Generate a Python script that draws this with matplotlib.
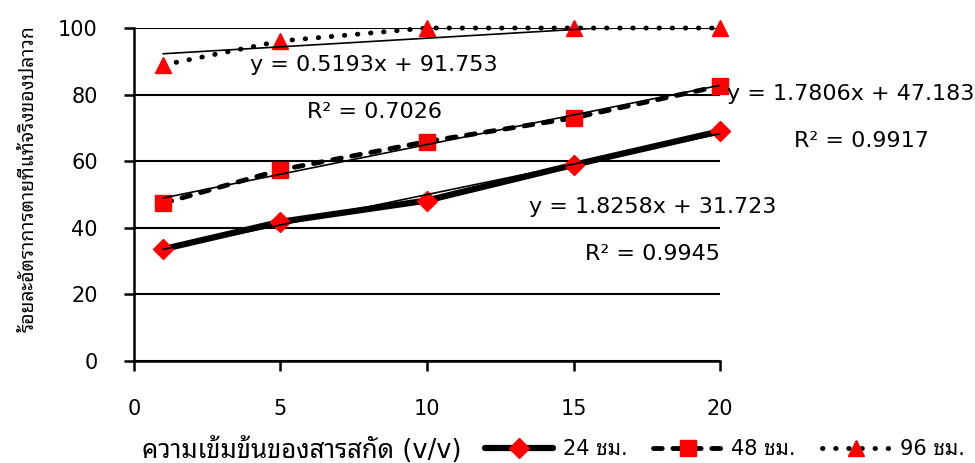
import matplotlib
matplotlib.use("Agg")
import matplotlib.pyplot as plt
from matplotlib.lines import Line2D
import numpy as np

plt.rcParams["font.family"] = ["DejaVu Sans", "Noto Sans Thai Looped", "Loma"]

# concentration of extract (v/v)
conc = [1, 5, 10, 15, 20]

# corrected mortality (%) per exposure time
mort_24h = [33.6, 41.8, 48.2, 58.9, 69.0]
mort_48h = [47.4, 57.4, 65.9, 73.0, 82.6]
mort_96h = [88.9, 96.1, 100.0, 100.0, 100.0]

series_labels = ["24 ชม.", "48 ชม.", "96 ชม."]

# linear trend lines (slope, intercept) and R^2 as printed on the chart
fits = {
    "24": (1.8258, 31.723, 0.9945),
    "48": (1.7806, 47.183, 0.9917),
    "96": (0.5193, 91.753, 0.7026),
}

x_label = "ความเข้มข้นของสารสกัด (v/v)"
y_label = "ร้อยละอัตราการตายที่แท้จริงของปลาวก"

red = "#ff0000"
styles = [
    dict(linewidth=4.5, linestyle="-", solid_capstyle="round", marker="D", markersize=10),
    dict(linewidth=3.5, linestyle=(0, (1.8, 2.2)), dash_capstyle="round", marker="s",
         markersize=11),
    dict(linewidth=3.5, linestyle=(0, (0.1, 2.6)), dash_capstyle="round", marker="^",
         markersize=12),
]

fig = plt.figure(figsize=(9.75, 4.63), dpi=100)
ax = fig.add_axes([0.1374, 0.2203, 0.6011, 0.7192])

ax.set_xlim(0, 20)
ax.set_ylim(0, 100)
ax.set_xticks([0, 5, 10, 15, 20])
ax.set_yticks([0, 20, 40, 60, 80, 100])
ax.yaxis.grid(True, color="black", linewidth=1.5)
ax.set_axisbelow(True)
for side in ["top", "right"]:
    ax.spines[side].set_visible(False)
ax.spines["left"].set_linewidth(1.8)
ax.spines["bottom"].set_linewidth(1.8)
ax.tick_params(axis="both", length=7, width=1.8, labelsize=15, colors="black")
ax.tick_params(axis="y", pad=19)
ax.tick_params(axis="x", pad=20)

handles = []
for vals, st in zip([mort_24h, mort_48h, mort_96h], styles):
    ax.plot(conc, vals, color="black", markerfacecolor=red, markeredgecolor=red,
            zorder=3, clip_on=False, **st)
    handles.append(Line2D([], [], color="black", markerfacecolor=red,
                          markeredgecolor=red, **st))

# thin trend lines
xt = np.array([conc[0], conc[-1]])
for key in ["24", "48", "96"]:
    m, b, _ = fits[key]
    ax.plot(xt, m * xt + b, color="black", linewidth=1.2, zorder=4)

fs = 16
ax.text(8.2, 88.9, f"y = {fits['96'][0]}x + {fits['96'][1]}", fontsize=fs,
        ha="center", va="center")
ax.text(8.2, 74.8, f"R² = {fits['96'][2]}", fontsize=fs, ha="center", va="center")
fig.text(0.746, 0.797, f"y = {fits['48'][0]}x + {fits['48'][1]}", fontsize=fs,
         ha="left", va="center")
fig.text(0.884, 0.695, f"R² = {fits['48'][2]}", fontsize=fs, ha="center", va="center")
ax.text(17.7, 46.2, f"y = {fits['24'][0]}x + {fits['24'][1]}", fontsize=fs,
        ha="center", va="center")
ax.text(17.7, 32.1, f"R² = {fits['24'][2]}", fontsize=fs, ha="center", va="center")

ax.set_ylabel(y_label, fontsize=14)
ax.yaxis.set_label_coords(-0.165, 0.547)
fig.text(0.1456, 0.028, x_label, fontsize=18.5, ha="left", va="center")

fig.legend(handles, series_labels, loc="center left", bbox_to_anchor=(0.497, 0.03),
           ncol=3, frameon=False, fontsize=15, handlelength=3.3, handletextpad=0.45,
           columnspacing=1.25, borderaxespad=0, borderpad=0)

fig.savefig("out.png", dpi=100)
